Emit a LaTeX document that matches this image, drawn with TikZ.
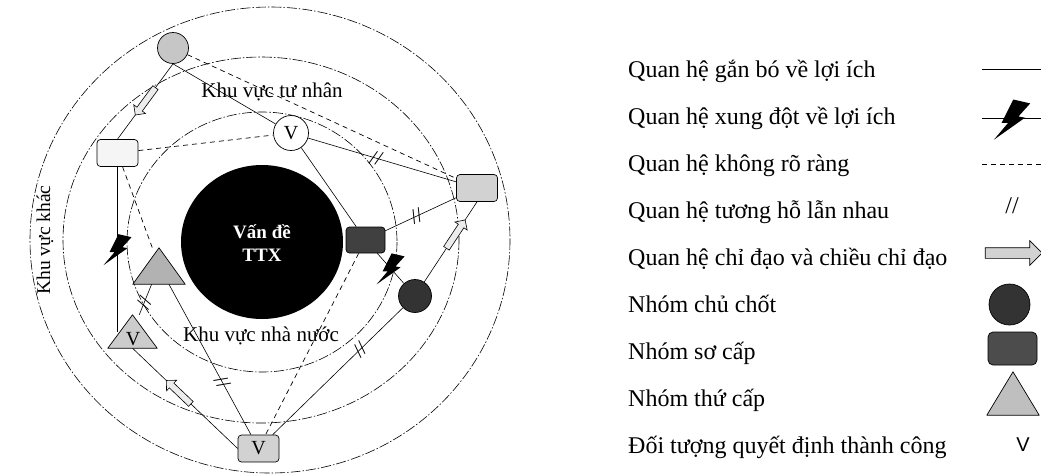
\documentclass[tikz,border=0pt]{standalone}
\usepackage{fontspec}
\setmainfont{Liberation Serif}
\newfontfamily\legsans{Liberation Sans}
\usetikzlibrary{shapes.arrows,backgrounds}
\tikzset{
  ring/.style={line width=0.6pt, dash pattern=on 10pt off 2pt on 1.5pt off 2pt},
  rel/.style={line width=0.6pt},
  unclear/.style={line width=0.7pt, dash pattern=on 5pt off 4pt},
  grp/.style={draw, line width=0.7pt, rounded corners=3.5pt, minimum width=41pt, minimum height=27pt, inner sep=0pt},
  circ/.style={draw, circle, line width=0.7pt, inner sep=0pt},
  trinode/.style={inner sep=0pt},
  trishape/.style={line width=0.7pt, line join=round},
  dirarrow/.style={single arrow, draw, line width=0.6pt, fill=gray!15, inner sep=3pt, single arrow head extend=4pt, minimum height=34pt, sloped, allow upside down},
  dbltick/.style={sloped, inner sep=0pt, font=\fontsize{21}{21}\selectfont},
  vmark/.style={inner sep=0pt, font=\fontsize{20}{20}\selectfont},
  lbl/.style={font=\fontsize{21}{21}\selectfont, inner sep=0pt},
  leg/.style={anchor=base west, inner sep=0pt, font=\fontsize{24}{24}\selectfont},
  bolt/.pic={\fill[black] (1,-15) -- (14,-12) -- (5,-2) -- (10,-1) -- (-14,16) -- (-3,3) -- (-8,3) -- cycle;}
}
\begin{document}
\begin{tikzpicture}[x=1pt,y=-1pt]
\useasboundingbox (0,0) rectangle (1041,475);
% rings
\draw[ring] (270,240) ellipse [x radius=240, y radius=233];
\draw[ring] (261,240) ellipse [x radius=198, y radius=183];
\draw[ring] (262,242) ellipse [x radius=135, y radius=130];
\fill[black] (262,242) ellipse [x radius=81, y radius=77];
\node[font=\bfseries\fontsize{19}{23}\selectfont, text=white, align=center] (issue) at (262,243) {Vấn đề\\TTX};
% labels
\node[lbl] (lblpriv) at (272,92) {Khu vực tư nhân};
\node[lbl] (lblstate) at (261,336) {Khu vực nhà nước};
\node[lbl, rotate=90, font=\fontsize{19.5}{19.5}\selectfont] (lblother) at (45,240) {Khu vực khác};
% groups
\node[circ, minimum size=31pt, fill=gray!45] (tc) at (173,48) {};
\node[circ, minimum size=35pt, fill=white, vmark] (vc) at (291,133) {V};
\node[grp, fill=gray!8] (wr) at (117.5,153) {};
\node[grp, fill=gray!35] (rb) at (477,188) {};
\node[grp, fill=black!75, minimum width=39pt, minimum height=26pt] (dr) at (365.5,240) {};
\node[circ, minimum size=33pt, fill=black!80] (dc) at (415,296) {};
\node[grp, fill=gray!35, vmark] (bb) at (258.5,448.5) {V};
\node[trinode, minimum width=52pt, minimum height=36pt] (ut) at (159,266) {};
\node[trinode, minimum width=49pt, minimum height=33pt] (lt) at (132.5,331.5) {};
\filldraw[trishape, fill=gray!60] (ut.south west) -- (ut.south east) -- (ut.north) -- cycle;
\filldraw[trishape, fill=gray!40] (lt.south west) -- (lt.south east) -- (lt.north) -- cycle;
\node[vmark] (ltv) at (133,339) {V};
% relations
\begin{scope}[on background layer]
\draw[rel] (tc.south) -- (wr.north);
\draw[rel] (tc.south) -- (vc);
\draw[unclear] (tc) -- (rb);
\draw[unclear] (wr) -- (vc);
\draw[rel] (vc) -- (rb);
\draw[rel] (vc) -- (dr);
\draw[rel] (dr) -- (rb);
\draw[rel] (dc) -- (rb.south);
\draw[rel] (dr) -- (dc);
\draw[unclear] (dr) -- (bb);
\draw[rel] (dc) -- (bb);
\draw[rel] (wr.south) -- (wr.south |- lt.center);
\draw[unclear] (wr) -- (ut);
\draw[rel] (ut) -- (bb);
\draw[rel] (ut) -- (lt);
\draw[rel] (bb.west) -- (lt.south);
\end{scope}
% decorations
\path (tc.south) -- (wr.north) node[dirarrow, pos=.48] (arr1) {};
\path (dc) -- (rb.south) node[dirarrow, pos=.58] (arr2) {};
\path (bb.west) -- (lt.south) node[dirarrow, pos=.55] (arr3) {};
\path (vc) -- (rb) node[dbltick, pos=.46] (tk1) {//};
\path (dr) -- (rb) node[dbltick, pos=.44] (tk2) {//};
\path (dc) -- (bb) node[dbltick, pos=.33] (tk3) {//};
\path (ut) -- (bb) node[dbltick, pos=.65] (tk4) {//};
\path (ut) -- (lt) node[dbltick, pos=.6] (tk5) {//};
\path (dr) -- (dc) coordinate[pos=.5] (b1);
\pic at (b1) {bolt};
\path (wr.south) -- (wr.south |- lt.center) coordinate[pos=.5] (b2);
\pic at (b2) {bolt};
% legend
\node[leg] (t1) at (628,77) {Quan hệ gắn bó về lợi ích};
\node[leg] (t2) at (628,124) {Quan hệ xung đột về lợi ích};
\node[leg] (t3) at (628,171) {Quan hệ không rõ ràng};
\node[leg] (t4) at (628,218) {Quan hệ tương hỗ lẫn nhau};
\node[leg] (t5) at (628,265) {Quan hệ chỉ đạo và chiều chỉ đạo};
\node[leg] (t6) at (628,312) {Nhóm chủ chốt};
\node[leg] (t7) at (628,359) {Nhóm sơ cấp};
\node[leg] (t8) at (628,406) {Nhóm thứ cấp};
\node[leg] (t9) at (628,453) {Đối tượng quyết định thành công};
\coordinate (s1a) at (982,69); \coordinate (s1b) at (1041,69);
\draw[rel] (s1a) -- (s1b);
\coordinate (s2a) at (982,118); \coordinate (s2b) at (1041,118);
\draw[rel] (s2a) -- (s2b);
\pic[scale=1.3] at (1012,119) {bolt};
\coordinate (s3a) at (982,164); \coordinate (s3b) at (1041,164);
\draw[unclear] (s3a) -- (s3b);
\node[inner sep=0pt, font=\fontsize{24}{24}\selectfont] (s4) at (1012,206) {//};
\node[single arrow, draw, line width=0.7pt, fill=gray!35, minimum height=57pt, inner sep=5pt, single arrow head extend=7pt] (s5) at (1011,253) {};
\node[circ, minimum size=41pt, fill=black!80] (s6) at (1009.5,304.5) {};
\node[grp, minimum width=49pt, minimum height=33pt, fill=black!70, rounded corners=5pt] (s7) at (1012.5,348.5) {};
\node[trinode, minimum width=52pt, minimum height=43pt] (s8) at (1013,393.5) {};
\filldraw[trishape, fill=gray!50] (s8.south west) -- (s8.south east) -- (s8.north) -- cycle;
\node[inner sep=0pt, font=\legsans\fontsize{20}{20}\selectfont] (s9) at (1023,445) {V};
\end{tikzpicture}
\end{document}
